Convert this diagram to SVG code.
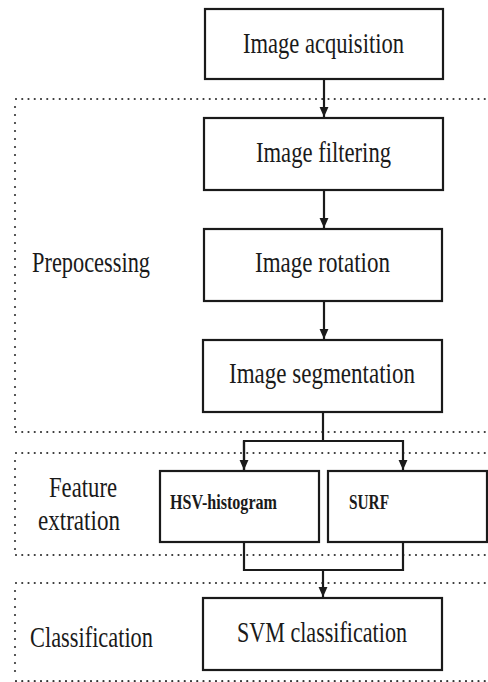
<svg xmlns="http://www.w3.org/2000/svg" width="488" height="682" viewBox="0 0 488 682">
<style>
.box{fill:#fff;stroke:#1a1a1a;stroke-width:2.2}
.t{font-family:"Liberation Serif","Times New Roman",serif;font-size:30px;fill:#1a1a1a}
.tb{font-family:"Liberation Serif","Times New Roman",serif;font-size:22px;font-weight:bold;fill:#1a1a1a}
.dh{fill:none;stroke:#333;stroke-width:2.2;stroke-linecap:round;stroke-dasharray:0 6.25}
.dv{fill:none;stroke:#333;stroke-width:2.2;stroke-linecap:round;stroke-dasharray:0 8}
.c{fill:none;stroke:#1a1a1a;stroke-width:2.2}
</style>
<defs>
<marker id="ah" viewBox="0 0 10 10" refX="10" refY="5" markerWidth="4.5" markerHeight="4.5" orient="auto" markerUnits="strokeWidth">
<path d="M0,0.5 L10,5 L0,9.5 z" fill="#1a1a1a"/>
</marker>
</defs>
<g id="regions">
<path class="dh" d="M16,99 H488"/>
<path class="dv" d="M15,107 V430"/>
<path class="dh" d="M16,432 H488"/>
<path class="dh" d="M16,453 H488"/>
<path class="dv" d="M15,461 V553"/>
<path class="dh" d="M16,555 H488"/>
<path class="dh" d="M16,583 H488"/>
<path class="dv" d="M15,591 V679"/>
<path class="dh" d="M16,681 H488"/>
</g>
<g id="labels">
<text class="t" x="32" y="272" textLength="118" lengthAdjust="spacingAndGlyphs">Prepocessing</text>
<text class="t" x="49" y="497" textLength="68" lengthAdjust="spacingAndGlyphs">Feature</text>
<text class="t" x="38" y="530" textLength="82" lengthAdjust="spacingAndGlyphs">extration</text>
<text class="t" x="30" y="647" textLength="123" lengthAdjust="spacingAndGlyphs">Classification</text>
</g>
<g id="connectors">
<path class="c" d="M324,79 V117" marker-end="url(#ah)"/>
<path class="c" d="M324,190 V228" marker-end="url(#ah)"/>
<path class="c" d="M324,301 V339" marker-end="url(#ah)"/>
<path class="c" d="M323,412 V441"/>
<path class="c" d="M244,470 V441 H403 V470" marker-end="url(#ah)"/>
<path class="c" d="M244,441 V470" marker-end="url(#ah)"/>
<path class="c" d="M244,542 V570 H403 V542"/>
<path class="c" d="M323,570 V597" marker-end="url(#ah)"/>
</g>
<g id="acquisition">
<rect class="box" x="205" y="9" width="238" height="70"/>
<text class="t" x="243" y="53" textLength="161" lengthAdjust="spacingAndGlyphs">Image acquisition</text>
</g>
<g id="filtering">
<rect class="box" x="204" y="118" width="239" height="72"/>
<text class="t" x="256" y="162" textLength="135" lengthAdjust="spacingAndGlyphs">Image filtering</text>
</g>
<g id="rotation">
<rect class="box" x="204" y="229" width="238" height="72"/>
<text class="t" x="255" y="272" textLength="135" lengthAdjust="spacingAndGlyphs">Image rotation</text>
</g>
<g id="segmentation">
<rect class="box" x="203" y="340" width="239" height="72"/>
<text class="t" x="229" y="383" textLength="186" lengthAdjust="spacingAndGlyphs">Image segmentation</text>
</g>
<g id="hsv">
<rect class="box" x="160" y="471" width="159" height="71"/>
<text class="tb" x="170" y="509" textLength="107" lengthAdjust="spacingAndGlyphs">HSV-histogram</text>
</g>
<g id="surf">
<rect class="box" x="328" y="471" width="159" height="71"/>
<text class="tb" x="349" y="509" textLength="40" lengthAdjust="spacingAndGlyphs">SURF</text>
</g>
<g id="svm">
<rect class="box" x="203" y="598" width="239" height="72"/>
<text class="t" x="237" y="642" textLength="170" lengthAdjust="spacingAndGlyphs">SVM classification</text>
</g>
</svg>
